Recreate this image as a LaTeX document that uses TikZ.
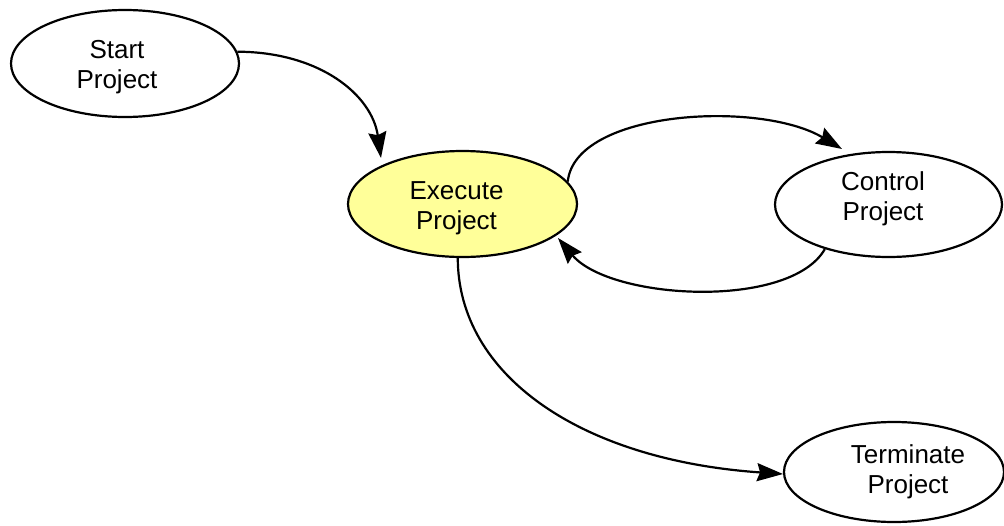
\documentclass[tikz,border=0pt]{standalone}
\usepackage{fontspec}
\setmainfont{Liberation Sans}
\usetikzlibrary{shapes.geometric,arrows.meta,calc}
\definecolor{execfill}{HTML}{FFFF99}
\tikzset{
  state/.style={ellipse, draw=black, line width=2.2pt, inner sep=0pt, fill=white},
  lbl/.style={align=center, inner sep=0pt, font=\fontsize{26}{30}\selectfont},
  conn/.style={draw=black, line width=2.2pt, -{Stealth[length=26pt, width=18pt, inset=3pt]}}
}
\begin{document}
\begin{tikzpicture}[x=1pt, y=-1pt]
\useasboundingbox (0,0) rectangle (1004,525);
% ellipses
\node[state, minimum width=228pt, minimum height=107pt] (s) at (125,63.5) {};
\node[state, fill=execfill, minimum width=229pt, minimum height=106pt] (e) at (462.5,204) {};
\node[state, minimum width=227pt, minimum height=105pt] (c) at (888.5,204.5) {};
\node[state, minimum width=220pt, minimum height=100pt] (t) at (894,472) {};
% labels
\node[lbl] (sl) at (117,67) {Start\\Project};
\node[lbl] (el) at (456.5,208) {Execute\\Project};
\node[lbl] (cl) at (883,199) {Control\\Project};
\node[lbl] (tl) at (908,472) {Terminate\\Project};
% connectors
\draw[conn] (s.6) .. controls (320,52) and (372,95) .. ($(e.center)+(-81.5,-46)$);
\draw[conn] (e.12) .. controls (575,110) and (760,100) .. ($(c.center)+(-46.5,-55.5)$);
\draw[conn] (c.215) .. controls (790,310) and (610,300) .. ($(e.center)+(95.5,34)$);
\draw[conn] (e.265) .. controls (458,375) and (580,460) .. ($(t.center)+(-111,2)$);
\end{tikzpicture}
\end{document}
